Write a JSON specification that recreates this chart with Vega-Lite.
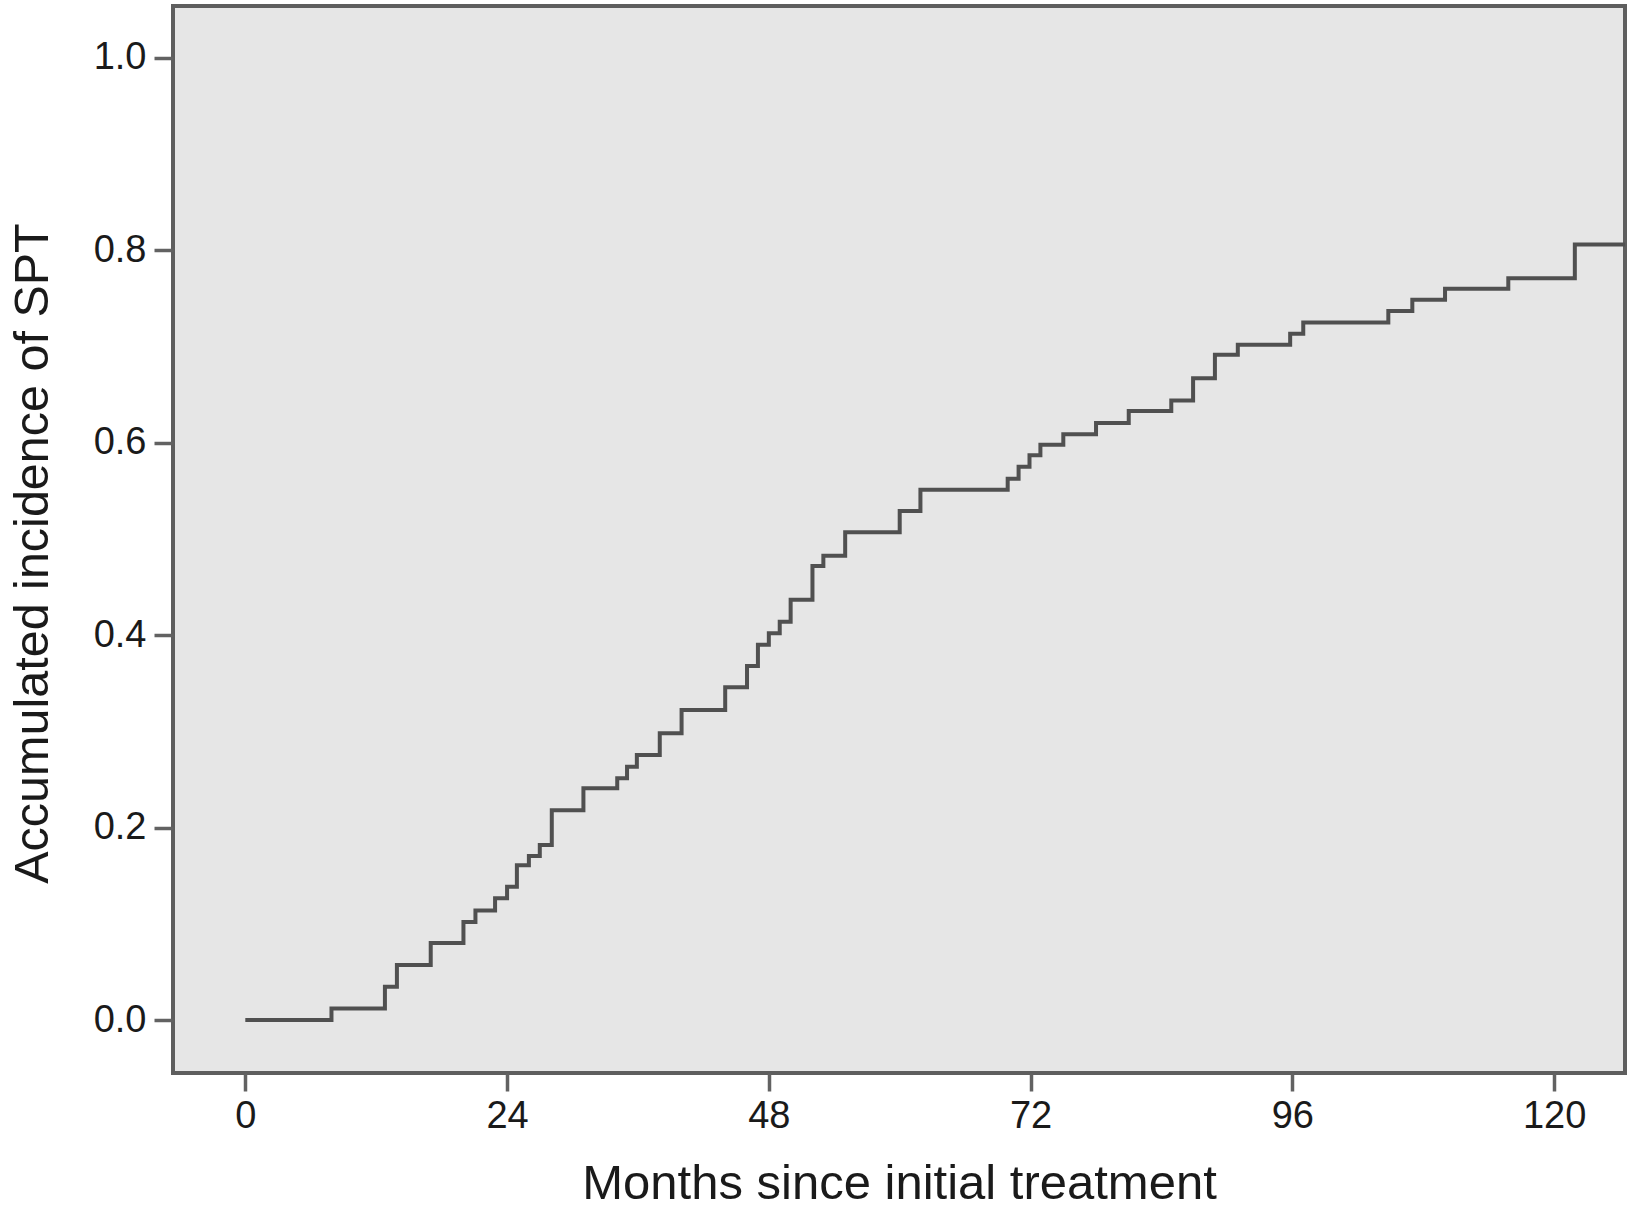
{
  "$schema": "https://vega.github.io/schema/vega-lite/v6.json",
  "width": 1452,
  "height": 1067,
  "autosize": {"type": "none"},
  "padding": {"left": 173, "top": 6, "right": 6, "bottom": 137},
  "background": "white",
  "config": {
    "view": {"fill": "#e6e6e6", "stroke": "#5e5e5e", "strokeWidth": 4},
    "font": "Liberation Sans"
  },
  "data": {
    "values": [
      {"month": 0, "value": 0},
      {"month": 7.9, "value": 0.012},
      {"month": 12.8, "value": 0.0347},
      {"month": 13.9, "value": 0.0572},
      {"month": 17.0, "value": 0.080},
      {"month": 20.0, "value": 0.102},
      {"month": 21.1, "value": 0.114},
      {"month": 22.9, "value": 0.1265},
      {"month": 24.0, "value": 0.1386},
      {"month": 24.9, "value": 0.161},
      {"month": 26.0, "value": 0.1705},
      {"month": 27.0, "value": 0.182},
      {"month": 28.1, "value": 0.218},
      {"month": 31.0, "value": 0.241},
      {"month": 34.1, "value": 0.2513},
      {"month": 35.0, "value": 0.2634},
      {"month": 35.9, "value": 0.2756},
      {"month": 38.0, "value": 0.2981},
      {"month": 40.0, "value": 0.3224},
      {"month": 44.0, "value": 0.346},
      {"month": 46.0, "value": 0.368},
      {"month": 47.0, "value": 0.390},
      {"month": 48.0, "value": 0.402},
      {"month": 49.0, "value": 0.414},
      {"month": 50.0, "value": 0.437},
      {"month": 52.0, "value": 0.472},
      {"month": 53.0, "value": 0.4825},
      {"month": 55.0, "value": 0.507},
      {"month": 60.0, "value": 0.529},
      {"month": 61.9, "value": 0.5513},
      {"month": 69.9, "value": 0.5627},
      {"month": 70.9, "value": 0.575},
      {"month": 71.9, "value": 0.587},
      {"month": 72.9, "value": 0.598},
      {"month": 75.0, "value": 0.609},
      {"month": 78.0, "value": 0.6205},
      {"month": 81.0, "value": 0.633},
      {"month": 84.9, "value": 0.644},
      {"month": 86.9, "value": 0.667},
      {"month": 88.9, "value": 0.6915},
      {"month": 91.0, "value": 0.702},
      {"month": 95.8, "value": 0.7133},
      {"month": 97.0, "value": 0.725},
      {"month": 104.8, "value": 0.737},
      {"month": 107.0, "value": 0.7487},
      {"month": 110.0, "value": 0.760},
      {"month": 115.8, "value": 0.771},
      {"month": 121.9, "value": 0.806},
      {"month": 126.5, "value": 0.806}
    ]
  },
  "mark": {"type": "line", "interpolate": "step-after", "color": "#505050", "strokeWidth": 4, "clip": true},
  "encoding": {
    "x": {
      "field": "month",
      "type": "quantitative",
      "scale": {"domain": [-6.63, 126.5], "nice": false, "zero": false},
      "axis": {
        "title": "Months since initial treatment",
        "values": [0, 24, 48, 72, 96, 120],
        "format": "d",
        "domain": false,
        "grid": false,
        "tickSize": 18,
        "tickWidth": 3.5,
        "tickColor": "#626262",
        "labelFontSize": 38,
        "labelColor": "#1a1a1a",
        "labelPadding": 6,
        "titleFontSize": 49,
        "titleFontWeight": "normal",
        "titleColor": "#1a1a1a",
        "titleBaseline": "alphabetic",
        "titleY": 125
      }
    },
    "y": {
      "field": "value",
      "type": "quantitative",
      "scale": {"domain": [-0.055, 1.054], "nice": false, "zero": false},
      "axis": {
        "title": "Accumulated incidence of SPT",
        "values": [0, 0.2, 0.4, 0.6, 0.8, 1.0],
        "format": ".1f",
        "domain": false,
        "grid": false,
        "tickSize": 19,
        "tickWidth": 3.5,
        "tickColor": "#626262",
        "labelFontSize": 38,
        "labelColor": "#1a1a1a",
        "labelPadding": 8,
        "titleFontSize": 48.5,
        "titleFontWeight": "normal",
        "titleColor": "#1a1a1a",
        "titleBaseline": "alphabetic",
        "titleX": -126,
        "titleY": 547
      }
    }
  }
}
